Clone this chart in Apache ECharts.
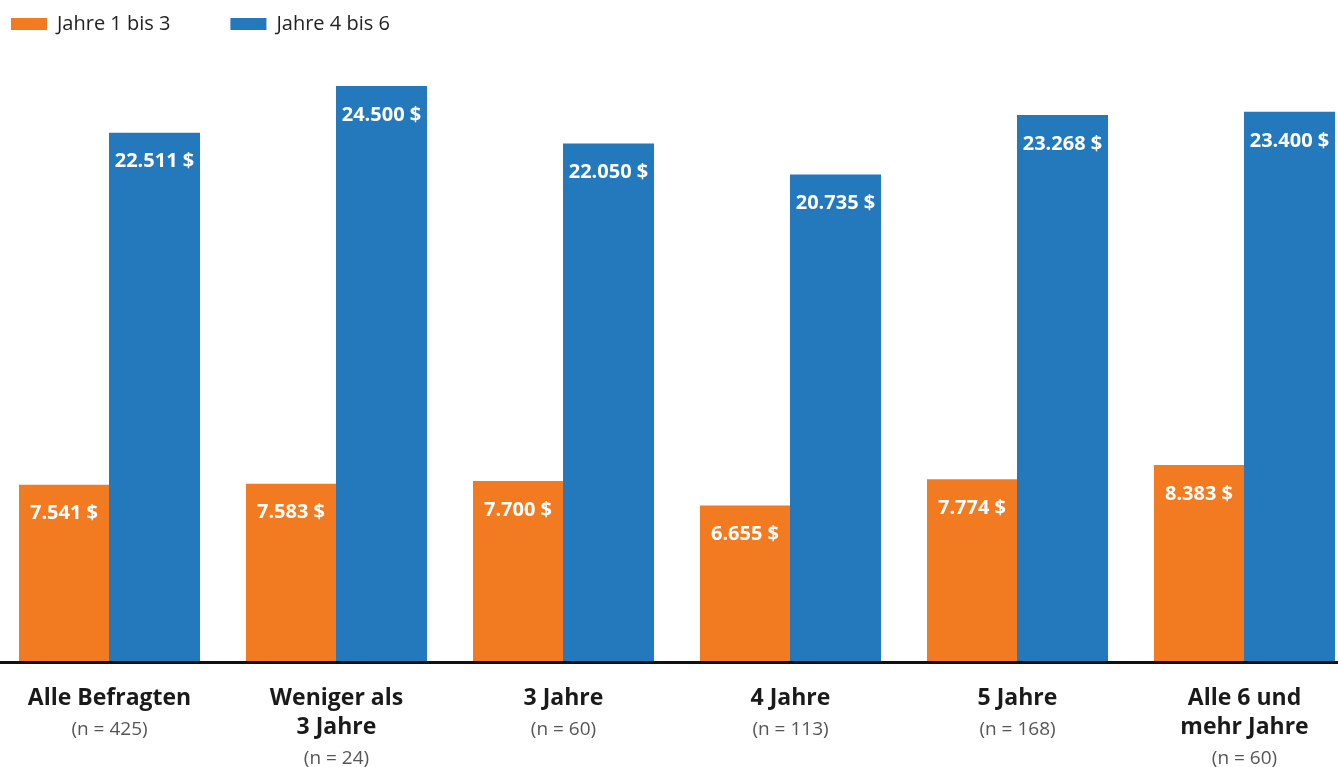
<!DOCTYPE html>
<html>
<head>
<meta charset="utf-8">
<script src="https://cdn.jsdelivr.net/npm/echarts@6/dist/echarts.min.js"></script>
<style>html,body{margin:0;padding:0;background:#fff}#c{width:1338px;height:767px}</style>
</head>
<body>
<div id="c"></div>
<script>
const categories = ['Alle Befragten', 'Weniger als\n3 Jahre', '3 Jahre', '4 Jahre', '5 Jahre', 'Alle 6 und\nmehr Jahre'];
const sampleSizes = [425, 24, 60, 113, 168, 60];
const seriesNames = ['Jahre 1 bis 3', 'Jahre 4 bis 6'];
const years1to3 = [7541, 7583, 7700, 6655, 7774, 8383];
const years4to6 = [22511, 24500, 22050, 20735, 23268, 23400];

const FONT = '"Open Sans", Lato, sans-serif';
function fmt(v) {
  return String(v).replace(/\B(?=(\d{3})+(?!\d))/g, '.') + ' $';
}
const catLabels = categories.map((c, i) => c + '||' + sampleSizes[i]);

const chart = echarts.init(document.getElementById('c'));
const labelCfg = {
  show: true, position: 'insideTop', distance: 19,
  color: '#fff', fontFamily: FONT, fontWeight: 'bold', fontSize: 20,
  formatter: p => fmt(p.value)
};
chart.setOption({
  animation: false,
  legend: {
    left: 6, top: 9, itemWidth: 36, itemHeight: 12, itemGap: 60,
    icon: 'rect',
    textStyle: { fontFamily: FONT, fontSize: 20, color: '#222', padding: [0, 0, 0, 5] },
    data: seriesNames
  },
  grid: { left: -4, width: 1362, top: 86, bottom: 105, outerBoundsMode: 'none', containLabel: false },
  xAxis: {
    type: 'category',
    data: catLabels,
    axisTick: { show: false },
    axisLine: { show: true, lineStyle: { color: '#111', width: 3 } },
    z: 10,
    axisLabel: {
      interval: 0, margin: 22,
      formatter: v => {
        const parts = v.split('||');
        const lines = parts[0].split('\n').map(l => '{b|' + l + '}');
        return lines.join('\n') + '\n{n|(n = ' + parts[1] + ')}';
      },
      rich: {
        b: { fontFamily: FONT, fontWeight: 'bold', fontSize: 23, color: '#1a1a1a', lineHeight: 29 },
        n: { fontFamily: FONT, fontSize: 19, color: '#555', lineHeight: 34 }
      }
    }
  },
  yAxis: {
    type: 'value', min: 0, max: 24500,
    show: false, splitLine: { show: false }
  },
  series: [
    { name: seriesNames[0], type: 'bar', data: years1to3, barWidth: 90, barGap: '0%',
      itemStyle: { color: '#F27B21' }, label: labelCfg },
    { name: seriesNames[1], type: 'bar', data: years4to6, barWidth: 91,
      itemStyle: { color: '#2478BC' }, label: labelCfg }
  ]
});
</script>
</body>
</html>
